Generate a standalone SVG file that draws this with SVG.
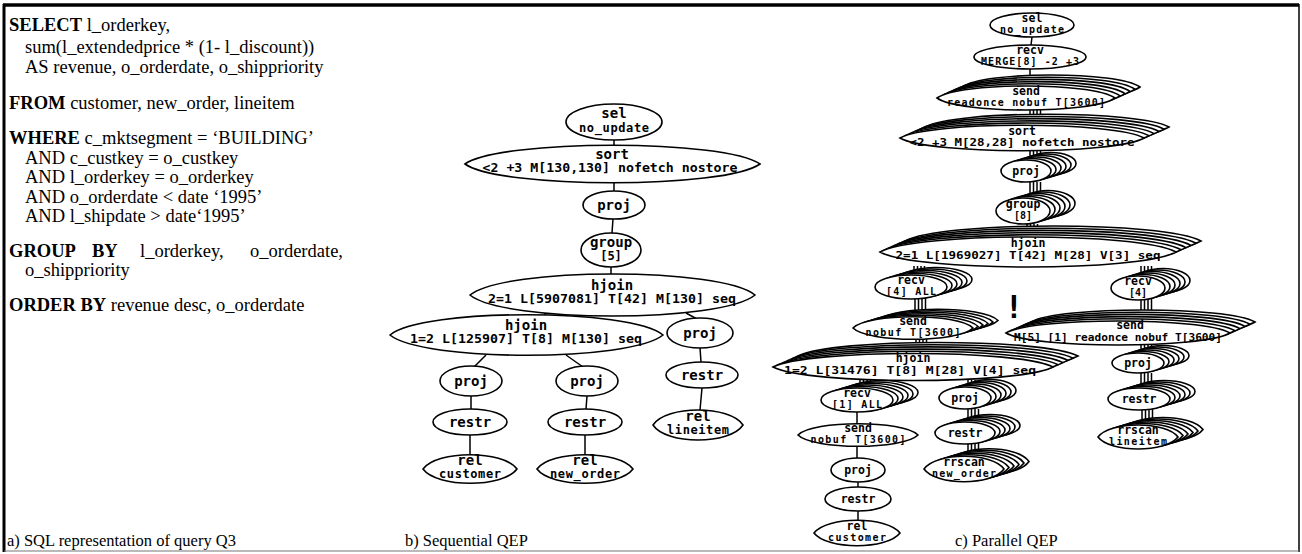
<svg xmlns="http://www.w3.org/2000/svg" xmlns:xlink="http://www.w3.org/1999/xlink" width="1302" height="554" viewBox="0 0 1302 554">
<style>
.n{fill:#fff;stroke:#000;stroke-width:1.6}
.c{fill:none;stroke:#000;stroke-width:1.5}
.sq{font-family:"Liberation Serif","Times New Roman",serif;font-size:18.5px;fill:#000}
.b{font-weight:bold}
.cap{font-family:"Liberation Serif","Times New Roman",serif;font-size:16.5px;fill:#000}
.l{font-family:"DejaVu Sans Mono",monospace;font-weight:bold;text-anchor:middle;fill:#000}
.s1{font-size:14px}
.s2{font-size:12px}
.p1{font-size:11.5px}
.p2{font-size:10px}
</style>
<rect width="1302" height="554" fill="#fff"/>
<g id="frame" fill="none" stroke="#000">
<line x1="3" y1="5" x2="1299" y2="5" stroke-width="3.5"/>
<line x1="4" y1="4" x2="4" y2="552" stroke-width="3"/>
<line x1="1299" y1="4" x2="1299" y2="552" stroke-width="1.5"/>
<line x1="4" y1="551" x2="1299" y2="551" stroke-width="1.2" stroke="#777"/>
</g>
<g id="sql" class="sq">
<text x="9" y="31"><tspan class="b">SELECT</tspan> l_orderkey,</text>
<text x="25" y="53">sum(l_extendedprice * (1- l_discount))</text>
<text x="25" y="73">AS revenue, o_orderdate, o_shippriority</text>
<text x="9" y="109"><tspan class="b">FROM</tspan> customer, new_order, lineitem</text>
<text x="9" y="144"><tspan class="b">WHERE</tspan> c_mktsegment = ‘BUILDING’</text>
<text x="25" y="164">AND c_custkey = o_custkey</text>
<text x="25" y="183">AND l_orderkey = o_orderkey</text>
<text x="25" y="203">AND o_orderdate &lt; date ‘1995’</text>
<text x="25" y="222">AND l_shipdate  &gt; date‘1995’</text>
<text y="257"><tspan class="b" x="9">GROUP</tspan><tspan class="b" x="92">BY</tspan><tspan x="140">l_orderkey,</tspan><tspan x="250">o_orderdate,</tspan></text>
<text x="25" y="276">o_shippriority</text>
<text x="9" y="311"><tspan class="b">ORDER BY</tspan> revenue desc, o_orderdate</text>
</g>
<g id="captions" class="cap">
<text x="7" y="546">a) SQL representation of query Q3</text>
<text x="405" y="546">b) Sequential QEP</text>
<text x="955" y="546">c) Parallel QEP</text>
</g>
<g id="connectors" class="c">
<path d="M614,140V146M614,183V191M613,219L612,233M611,267V274M545,313V318M686,313L697,319M486,355L474,367M566,355L583,367M471,396V409M470,435V455M587,396L586,409M585,435V455M700,348L701,362M702,388L700,410"/>
<path d="M1032,37L1031,45M1030,69V82M857,411V425M857,446V459M858,482V488M858,511V521"/>
<path d="M1030,109V127M1033.5,109V127M1037,109V127M1040.5,109V127
M1030,150V163M1033.5,150V163M1037,150V163M1040.5,150V163
M1030,182V201M1033.5,182V201M1037,182V201M1040.5,182V201
M1027,224V238M1030.5,224V238M1034,224V238M1037.5,224V238
M914,266V278M917.5,266V278M921,266V278M924.5,266V278
M1141,266V280M1144.5,266V280M1148,266V280M1151.5,266V280
M915,297V318M918.5,297V318M922,297V318M925.5,297V318
M1141,298V322M1144.5,298V322M1148,298V322M1151.5,298V322
M916,338V355M919.5,338V355M923,338V355M926.5,338V355
M860,380V391M863.5,380V391M867,380V391M870.5,380V391
M968,380V390M971.5,380V390M975,380V390M978.5,380V390
M1141,344V354M1144.5,344V354M1148,344V354M1151.5,344V354
M1141,373V390M1144.5,373V390M1148,373V390M1151.5,373V390
M1142,409V428M1145.5,409V428M1149,409V428M1152.5,409V428
M968,409V425M971.5,409V425M975,409V425M978.5,409V425
M968,443V459M971.5,443V459M975,443V459M978.5,443V459"/>
</g>
<!-- Sequential QEP -->
<g id="s-sel"><ellipse class="n" cx="614" cy="122" rx="48" ry="18"/><text class="l s1" x="614" y="118">sel</text><text class="l s2" x="614" y="132" textLength="70">no_update</text></g>
<g id="s-sort"><path class="n" d="M465,164c35,-25 260,-25 295,0c-35,25 -260,25 -295,0z"/><text class="l s1" x="612" y="159">sort</text><text class="l s2" x="610" y="172" textLength="255" lengthAdjust="spacingAndGlyphs">&lt;2 +3 M[130,130] nofetch nostore</text></g>
<g id="s-proj"><ellipse class="n" cx="614" cy="205" rx="31" ry="14"/><text class="l s1" x="614" y="210">proj</text></g>
<g id="s-group"><ellipse class="n" cx="611" cy="250" rx="30" ry="17"/><text class="l s1" x="611" y="247">group</text><text class="l s2" x="611" y="260">[5]</text></g>
<g id="s-hjoin1"><path class="n" d="M470,295c34,-28 251,-28 285,0c-34,28 -251,28 -285,0z"/><text class="l s1" x="612" y="290">hjoin</text><text class="l s2" x="612" y="303" textLength="248" lengthAdjust="spacingAndGlyphs">2=1 L[5907081] T[42] M[130] seq</text></g>
<g id="s-hjoin2"><path class="n" d="M390,335c33,-27 240,-27 273,0c-33,27 -240,27 -273,0z"/><text class="l s1" x="526" y="330">hjoin</text><text class="l s2" x="526" y="343" textLength="232" lengthAdjust="spacingAndGlyphs">1=2 L[125907] T[8] M[130] seq</text></g>
<g id="s-proj-c"><ellipse class="n" cx="471" cy="381" rx="31" ry="15"/><text class="l s1" x="471" y="386">proj</text></g>
<g id="s-restr-c"><ellipse class="n" cx="470" cy="422" rx="37" ry="13"/><text class="l s1" x="470" y="427">restr</text></g>
<g id="s-rel-c"><path class="n" d="M423,469c14,-19 80,-19 94,0c-14,19 -80,19 -94,0z"/><text class="l s1" x="470" y="465">rel</text><text class="l s2" x="470" y="478" textLength="62">customer</text></g>
<g id="s-proj-o"><ellipse class="n" cx="587" cy="381" rx="31" ry="15"/><text class="l s1" x="587" y="386">proj</text></g>
<g id="s-restr-o"><ellipse class="n" cx="585" cy="422" rx="37" ry="13"/><text class="l s1" x="585" y="427">restr</text></g>
<g id="s-rel-o"><path class="n" d="M537,469c14,-19 82,-19 96,0c-14,19 -82,19 -96,0z"/><text class="l s1" x="585" y="465">rel</text><text class="l s2" x="585" y="478" textLength="70">new_order</text></g>
<g id="s-proj-l"><ellipse class="n" cx="700" cy="333" rx="33" ry="15"/><text class="l s1" x="700" y="338">proj</text></g>
<g id="s-restr-l"><ellipse class="n" cx="702" cy="375" rx="36" ry="13"/><text class="l s1" x="702" y="380">restr</text></g>
<g id="s-rel-l"><path class="n" d="M653,425c13,-20 77,-20 90,0c-13,20 -77,20 -90,0z"/><text class="l s1" x="698" y="421">rel</text><text class="l s2" x="698" y="434" textLength="62">lineitem</text></g>
<!-- Parallel QEP -->
<g id="p-sel"><ellipse class="n" cx="1032" cy="25" rx="42" ry="12"/><text class="l p1" x="1032" y="22">sel</text><text class="l p2" x="1032" y="33" textLength="64">no_update</text></g>
<g id="p-recv-merge"><ellipse class="n" cx="1030" cy="57" rx="56" ry="12"/><text class="l p1" x="1030" y="54">recv</text><text class="l p2" x="1030" y="65" textLength="98">MERGE[8] -2 +3</text></g>
<g id="p-send1"><use href="#p-send1-s" x="25" y="-11"/><use href="#p-send1-s" x="20" y="-8.8"/><use href="#p-send1-s" x="15" y="-6.6"/><use href="#p-send1-s" x="10" y="-4.4"/><use href="#p-send1-s" x="5" y="-2.2"/><path id="p-send1-s" class="n" d="M937,98c22,-16 156,-16 178,0c-22,16 -156,16 -178,0z"/><text class="l p1" x="1026" y="95">send</text><text class="l p2" x="1026" y="106" textLength="158">readonce nobuf T[3600]</text></g>
<g id="p-sort"><use href="#p-sort-s" x="25" y="-11"/><use href="#p-sort-s" x="20" y="-8.8"/><use href="#p-sort-s" x="15" y="-6.6"/><use href="#p-sort-s" x="10" y="-4.4"/><use href="#p-sort-s" x="5" y="-2.2"/><path id="p-sort-s" class="n" d="M900,138c29,-17 215,-17 244,0c-29,17 -215,17 -244,0z"/><text class="l p1" x="1022" y="135">sort</text><text class="l p2" x="1022" y="146" textLength="225" lengthAdjust="spacingAndGlyphs">&lt;2 +3 M[28,28] nofetch nostore</text></g>
<g id="p-proj1"><use href="#p-proj1-s" x="25" y="-7.5"/><use href="#p-proj1-s" x="20" y="-6"/><use href="#p-proj1-s" x="15" y="-4.5"/><use href="#p-proj1-s" x="10" y="-3"/><use href="#p-proj1-s" x="5" y="-1.5"/><ellipse id="p-proj1-s" class="n" cx="1026" cy="171" rx="25" ry="11"/><text class="l p1" x="1026" y="175">proj</text></g>
<g id="p-group"><use href="#p-group-s" x="25" y="-7.5"/><use href="#p-group-s" x="20" y="-6"/><use href="#p-group-s" x="15" y="-4.5"/><use href="#p-group-s" x="10" y="-3"/><use href="#p-group-s" x="5" y="-1.5"/><ellipse id="p-group-s" class="n" cx="1023" cy="211" rx="27" ry="13"/><text class="l p1" x="1023" y="208">group</text><text class="l p2" x="1023" y="219">[8]</text></g>
<g id="p-hjoin1"><use href="#p-hjoin1-s" x="25" y="-11"/><use href="#p-hjoin1-s" x="20" y="-8.8"/><use href="#p-hjoin1-s" x="15" y="-6.6"/><use href="#p-hjoin1-s" x="10" y="-4.4"/><use href="#p-hjoin1-s" x="5" y="-2.2"/><path id="p-hjoin1-s" class="n" d="M880,252c36,-20 260,-20 296,0c-36,20 -260,20 -296,0z"/><text class="l p1" x="1028" y="247">hjoin</text><text class="l p2" x="1028" y="259" textLength="265" lengthAdjust="spacingAndGlyphs">2=1 L[1969027] T[42] M[28] V[3] seq</text></g>
<g id="p-recv4all"><use href="#p-recv4all-s" x="25" y="-7.5"/><use href="#p-recv4all-s" x="20" y="-6"/><use href="#p-recv4all-s" x="15" y="-4.5"/><use href="#p-recv4all-s" x="10" y="-3"/><use href="#p-recv4all-s" x="5" y="-1.5"/><ellipse id="p-recv4all-s" class="n" cx="911" cy="287" rx="36" ry="12"/><text class="l p1" x="911" y="284">recv</text><text class="l p2" x="911" y="295" textLength="50">[4] ALL</text></g>
<g id="p-recv4"><use href="#p-recv4-s" x="25" y="-7.5"/><use href="#p-recv4-s" x="20" y="-6"/><use href="#p-recv4-s" x="15" y="-4.5"/><use href="#p-recv4-s" x="10" y="-3"/><use href="#p-recv4-s" x="5" y="-1.5"/><ellipse id="p-recv4-s" class="n" cx="1138" cy="288" rx="27" ry="12"/><text class="l p1" x="1138" y="285">recv</text><text class="l p2" x="1138" y="296">[4]</text></g>
<text id="p-warn" class="l" x="1014" y="318" font-size="32">!</text>
<g id="p-send2"><use href="#p-send2-s" x="25" y="-7.5"/><use href="#p-send2-s" x="20" y="-6"/><use href="#p-send2-s" x="15" y="-4.5"/><use href="#p-send2-s" x="10" y="-3"/><use href="#p-send2-s" x="5" y="-1.5"/><path id="p-send2-s" class="n" d="M853,328c15,-15 105,-15 120,0c-15,15 -105,15 -120,0z"/><text class="l p1" x="913" y="325">send</text><text class="l p2" x="913" y="336" textLength="95">nobuf T[3600]</text></g>
<g id="p-send3"><use href="#p-send3-s" x="25" y="-11"/><use href="#p-send3-s" x="20" y="-8.8"/><use href="#p-send3-s" x="15" y="-6.6"/><use href="#p-send3-s" x="10" y="-4.4"/><use href="#p-send3-s" x="5" y="-2.2"/><path id="p-send3-s" class="n" d="M1006,333c27,-16 197,-16 224,0c-27,16 -197,16 -224,0z"/><text class="l p1" x="1130" y="329">send</text><text class="l p2" x="1118" y="341" textLength="208" lengthAdjust="spacingAndGlyphs">M[5] [1] readonce nobuf T[3600]</text></g>
<g id="p-hjoin2"><use href="#p-hjoin2-s" x="25" y="-11"/><use href="#p-hjoin2-s" x="20" y="-8.8"/><use href="#p-hjoin2-s" x="15" y="-6.6"/><use href="#p-hjoin2-s" x="10" y="-4.4"/><use href="#p-hjoin2-s" x="5" y="-2.2"/><path id="p-hjoin2-s" class="n" d="M773,367c34,-18 246,-18 280,0c-34,18 -246,18 -280,0z"/><text class="l p1" x="913" y="362">hjoin</text><text class="l p2" x="910" y="374" textLength="252" lengthAdjust="spacingAndGlyphs">1=2 L[31476] T[8] M[28] V[4] seq</text></g>
<g id="p-recv1all"><use href="#p-recv1all-s" x="25" y="-7.5"/><use href="#p-recv1all-s" x="20" y="-6"/><use href="#p-recv1all-s" x="15" y="-4.5"/><use href="#p-recv1all-s" x="10" y="-3"/><use href="#p-recv1all-s" x="5" y="-1.5"/><ellipse id="p-recv1all-s" class="n" cx="857" cy="400" rx="36" ry="12"/><text class="l p1" x="857" y="397">recv</text><text class="l p2" x="857" y="408" textLength="50">[1] ALL</text></g>
<g id="p-send4"><path class="n" d="M798,435c15,-15 105,-15 120,0c-15,15 -105,15 -120,0z"/><text class="l p1" x="858" y="432">send</text><text class="l p2" x="858" y="443" textLength="95">nobuf T[3600]</text></g>
<g id="p-proj-c"><ellipse class="n" cx="858" cy="470" rx="27" ry="12"/><text class="l p1" x="858" y="474">proj</text></g>
<g id="p-restr-c"><ellipse class="n" cx="858" cy="499" rx="33" ry="12"/><text class="l p1" x="858" y="503">restr</text></g>
<g id="p-rel-c"><path class="n" d="M814,533c13,-17 73,-17 86,0c-13,17 -73,17 -86,0z"/><text class="l p1" x="857" y="530">rel</text><text class="l p2" x="857" y="541" textLength="58">customer</text></g>
<g id="p-proj-o"><use href="#p-proj-o-s" x="25" y="-7.5"/><use href="#p-proj-o-s" x="20" y="-6"/><use href="#p-proj-o-s" x="15" y="-4.5"/><use href="#p-proj-o-s" x="10" y="-3"/><use href="#p-proj-o-s" x="5" y="-1.5"/><ellipse id="p-proj-o-s" class="n" cx="965" cy="398" rx="26" ry="11"/><text class="l p1" x="965" y="402">proj</text></g>
<g id="p-restr-o"><use href="#p-restr-o-s" x="25" y="-7.5"/><use href="#p-restr-o-s" x="20" y="-6"/><use href="#p-restr-o-s" x="15" y="-4.5"/><use href="#p-restr-o-s" x="10" y="-3"/><use href="#p-restr-o-s" x="5" y="-1.5"/><ellipse id="p-restr-o-s" class="n" cx="965" cy="433" rx="30" ry="11"/><text class="l p1" x="965" y="437">restr</text></g>
<g id="p-scan-o"><use href="#p-scan-o-s" x="25" y="-7.5"/><use href="#p-scan-o-s" x="20" y="-6"/><use href="#p-scan-o-s" x="15" y="-4.5"/><use href="#p-scan-o-s" x="10" y="-3"/><use href="#p-scan-o-s" x="5" y="-1.5"/><path id="p-scan-o-s" class="n" d="M924,469c12,-17 68,-17 80,0c-12,17 -68,17 -80,0z"/><text class="l p1" x="964" y="466">rrscan</text><text class="l p2" x="964" y="477" textLength="64">new_order</text></g>
<g id="p-proj-l"><use href="#p-proj-l-s" x="25" y="-7.5"/><use href="#p-proj-l-s" x="20" y="-6"/><use href="#p-proj-l-s" x="15" y="-4.5"/><use href="#p-proj-l-s" x="10" y="-3"/><use href="#p-proj-l-s" x="5" y="-1.5"/><ellipse id="p-proj-l-s" class="n" cx="1138" cy="363" rx="26" ry="10"/><text class="l p1" x="1138" y="367">proj</text></g>
<g id="p-restr-l"><use href="#p-restr-l-s" x="25" y="-7.5"/><use href="#p-restr-l-s" x="20" y="-6"/><use href="#p-restr-l-s" x="15" y="-4.5"/><use href="#p-restr-l-s" x="10" y="-3"/><use href="#p-restr-l-s" x="5" y="-1.5"/><ellipse id="p-restr-l-s" class="n" cx="1139" cy="399" rx="31" ry="11"/><text class="l p1" x="1139" y="403">restr</text></g>
<g id="p-scan-l"><use href="#p-scan-l-s" x="25" y="-7.5"/><use href="#p-scan-l-s" x="20" y="-6"/><use href="#p-scan-l-s" x="15" y="-4.5"/><use href="#p-scan-l-s" x="10" y="-3"/><use href="#p-scan-l-s" x="5" y="-1.5"/><path id="p-scan-l-s" class="n" d="M1098,437c12,-16 68,-16 80,0c-12,16 -68,16 -80,0z"/><text class="l p1" x="1138" y="434">rrscan</text><text class="l p2" x="1138" y="445" textLength="58">lineitem</text></g>
</svg>
